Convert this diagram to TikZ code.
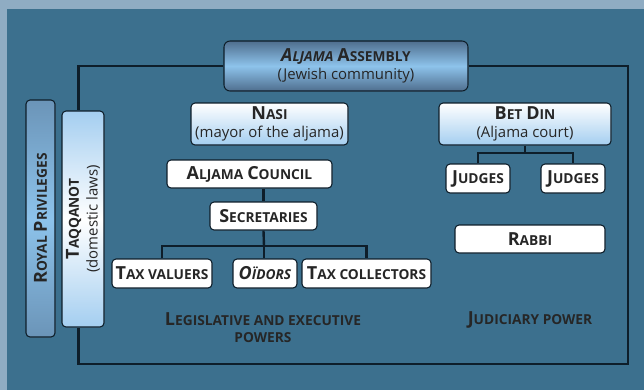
\documentclass[tikz,border=0pt]{standalone}
\usepackage{fontspec}
\setmainfont{Open Sans}
\usetikzlibrary{positioning, calc}
\definecolor{panelBlue}{HTML}{3C708E}
\definecolor{frameBlue}{HTML}{8FACC3}
\definecolor{lineDark}{HTML}{0E1E2A}
\definecolor{textDark}{HTML}{262626}
\definecolor{skyBlue}{HTML}{8DC3EB}
\definecolor{steelBlue}{HTML}{4F6E8E}
\definecolor{paleBlue}{HTML}{A4CEF0}
\newcommand{\capbig}{\fontsize{13.5}{15}\selectfont}
\newcommand{\capsmall}{\fontsize{10.3}{12}\selectfont}
\newcommand{\fsc}[2]{{\bfseries\capbig #1\capsmall #2}}

\begin{document}
\begin{tikzpicture}[x=0.75pt, y=-0.75pt,
    every node/.style={font=\fontsize{11.2}{14}\selectfont, text=textDark},
    box/.style={draw=lineDark, line width=0.8pt, rounded corners=3pt, fill=white, align=center, inner sep=1pt},
    asmbox/.style={box, rounded corners=4.5pt, top color=steelBlue, bottom color=steelBlue, middle color=skyBlue},
    headbox/.style={box, top color=white, bottom color=paleBlue},
    royalbox/.style={box, rotate=90, top color=steelBlue!55!skyBlue, bottom color=steelBlue!55!skyBlue, middle color=skyBlue},
    lawbox/.style={box, rotate=90, top color=paleBlue, bottom color=paleBlue, middle color=white},
    link/.style={draw=lineDark, line width=1.8pt}]
    \fill[frameBlue] (0,0) rectangle (644,390);
    \fill[panelBlue] (7,9) rectangle (644,390);
    \useasboundingbox (0,0) rectangle (644,390);

    % top of the tree
    \node[asmbox, minimum width=183pt, minimum height=37.5pt] (asm) at (346,66)
      {{\itshape\fsc{A}{LJAMA}} \fsc{A}{SSEMBLY}\\(Jewish community)};
    \node[headbox, minimum width=117.75pt, minimum height=31.5pt] (nasi) at (269.5,124)
      {\fsc{N}{ASI}\\(mayor of the aljama)};
    \node[headbox, minimum width=129pt, minimum height=31.5pt] (betdin) at (525,124)
      {\fsc{B}{ET} \fsc{D}{IN}\\(Aljama court)};

    % side pillars
    \node[royalbox, minimum width=177.75pt, minimum height=21.75pt] (royal) at (40.5,218.5)
      {\fsc{R}{OYAL} \fsc{P}{RIVILEGES}};
    \node[lawbox, minimum width=162pt, minimum height=31.5pt] (taqq) at (83,219)
      {\fsc{T}{AQQANOT}\\(domestic laws)};

    % council side
    \node[box, minimum width=123.75pt, minimum height=21pt] (council) at (249.5,174) {\fsc{A}{LJAMA} \fsc{C}{OUNCIL}};
    \node[box, minimum width=80.25pt, minimum height=21pt] (secr) at (263.5,216) {\fsc{S}{ECRETARIES}};
    \foreach \n/\x/\w/\t in {taxval/162/75/{\fsc{T}{AX VALUERS}},
        oidors/265/48/{\itshape\fsc{O}{ÏDORS}},
        taxcol/366.5/96.75/{\fsc{T}{AX COLLECTORS}}}{
      \node[box, minimum width=\w pt, minimum height=21.75pt] (\n) at (\x,273.5) {\t};
    }

    % court side
    \foreach \i/\x in {1/478, 2/573}{
      \node[box, minimum width=48pt, minimum height=21.75pt] (judges\i) at (\x,178.5) {\fsc{J}{UDGES}};
    }
    \node[box, minimum width=112.5pt, minimum height=21pt] (rabbi) at (530,239) {\fsc{R}{ABBI}};

    \node[align=center, font=\fontsize{11}{12.75}\selectfont] (legis) at (263,328)
      {\fsc{L}{EGISLATIVE AND EXECUTIVE}\\\fsc{}{POWERS}};
    \node (judic) at (530,320) {\fsc{J}{UDICIARY POWER}};

    % connectors
    \coordinate (frameBR) at (628,364);
    \coordinate (taxbar) at (264,246);
    \coordinate (judbar) at (525,153);
    \draw[link] (asm.west) -| ([xshift=-3.5pt]taqq.east);
    \draw[link] (asm.east) -| (frameBR) -| ([xshift=-3.5pt]taqq.west);
    \draw[link] (secr.north) -- (secr.north |- council.south);
    \draw[link] (secr.south) -- (taxbar);
    \draw[link] (taxval.north) |- (taxbar) -| (taxcol.north);
    \draw[link] (taxbar) -- (taxbar |- oidors.north);
    \draw[link] (betdin.south) -- (judbar);
    \draw[link] (judges1.north) |- (judbar) -| (judges2.north);
\end{tikzpicture}
\end{document}
